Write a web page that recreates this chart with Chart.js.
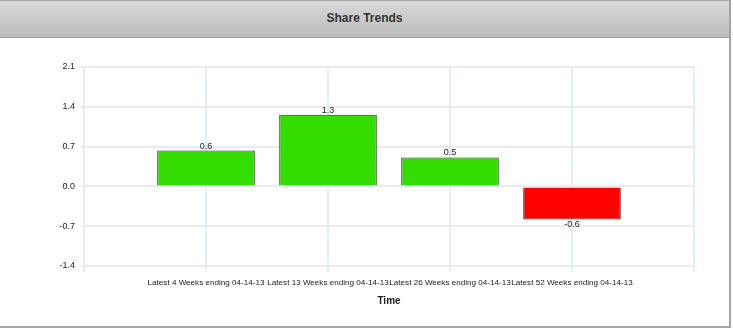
<!DOCTYPE html>
<html>
<head>
<meta charset="utf-8">
<script src="https://cdn.jsdelivr.net/npm/chart.js@4/dist/chart.umd.min.js"></script>
<style>
  body { margin: 0; background: #fff; }
  #wrap { position: relative; width: 729px; height: 326px; border-right: 2px solid #a4a4a4; border-bottom: 2px solid #a4a4a4; }
  #head {
    height: 36px; border-top: 1px solid #a8a8a8; border-bottom: 1px solid #a0a0a0;
    background: linear-gradient(#d8d8d8, #bcbcbc);
    font: bold 12px "Liberation Sans", Arial, sans-serif; color: #333;
    text-align: center; line-height: 35px;
  }
  #chart { position: absolute; left: 0; top: 38px; }
</style>
</head>
<body>
<div id="wrap">
  <div id="head">Share Trends</div>
  <canvas id="chart" width="729" height="288"></canvas>
</div>
<script>
const categories = [
  'Latest 4 Weeks ending 04-14-13',
  'Latest 13 Weeks ending 04-14-13',
  'Latest 26 Weeks ending 04-14-13',
  'Latest 52 Weeks ending 04-14-13'
];
const shareValues = [0.63, 1.26, 0.51, -0.58];
const yTicks = [-1.4, -0.7, 0.0, 0.7, 1.4, 2.1];

// blank slots on both ends so bars sit on the grid lines
const labels = [''].concat(categories, ['']);
const values = [null].concat(shareValues, [null]);
const colors = values.map(v => (v !== null && v < 0) ? '#ff0000' : '#33dd00');

const gridColor = '#e6ecf4';
const font = { family: '"Liberation Sans", Arial, sans-serif', size: 9 };

// value labels above / below each bar
const barLabels = {
  id: 'barLabels',
  afterDatasetsDraw(chart) {
    const ctx = chart.ctx;
    const meta = chart.getDatasetMeta(0);
    ctx.save();
    ctx.font = '9px "Liberation Sans", Arial, sans-serif';
    ctx.fillStyle = '#222';
    ctx.textAlign = 'center';
    meta.data.forEach((bar, i) => {
      const v = values[i];
      if (v === null) return;
      if (v >= 0) {
        ctx.textBaseline = 'bottom';
        ctx.fillText(v.toFixed(1), bar.x, bar.y);
      } else {
        ctx.textBaseline = 'top';
        ctx.fillText(v.toFixed(1), bar.x, bar.y + 1);
      }
    });
    ctx.restore();
  }
};

new Chart(document.getElementById('chart'), {
  type: 'bar',
  data: {
    labels,
    datasets: [{
      data: values,
      backgroundColor: colors,
      borderColor: '#333',
      borderWidth: 1,
      categoryPercentage: 1,
      barPercentage: 0.8
    }]
  },
  options: {
    responsive: false,
    animation: false,
    layout: { padding: { left: 0, right: 35, top: 29, bottom: 15 } },
    plugins: { legend: { display: false }, tooltip: { enabled: false } },
    scales: {
      x: {
        offset: false,
        grid: { color: gridColor, lineWidth: 2, tickLength: 6, offset: false },
        border: { display: false },
        ticks: { font: { family: font.family, size: 8.1 }, color: '#222', maxRotation: 0, minRotation: 0, autoSkip: false, padding: 6 },
        title: { display: true, text: 'Time', color: '#222', font: { family: font.family, size: 10, weight: 'bold' }, padding: { top: 0, bottom: 4 } },
        afterFit: s => { s.height = 45; }
      },
      y: {
        min: yTicks[0],
        max: yTicks[yTicks.length - 1],
        afterBuildTicks: s => { s.ticks = yTicks.map(v => ({ value: v })); },
        grid: { color: gridColor, lineWidth: 2, tickLength: 3 },
        border: { display: false },
        ticks: { font, color: '#222', padding: 6, callback: v => v.toFixed(1) },
        afterFit: s => { s.width = 84; }
      }
    }
  },
  plugins: [barLabels]
});
</script>
</body>
</html>
